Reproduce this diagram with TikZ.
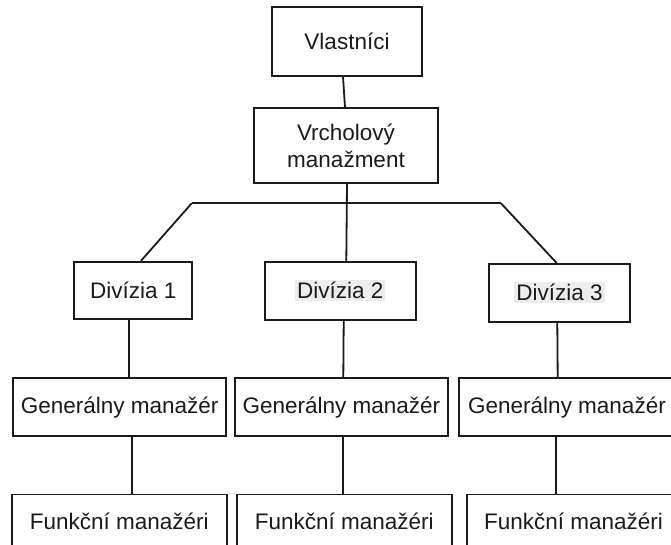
\documentclass[tikz,border=0pt]{standalone}
\usepackage{fontspec}
\setmainfont{Liberation Sans}
\definecolor{ink}{HTML}{1A1A1A}
\definecolor{hl}{HTML}{EDEDED}
\newcommand{\hilite}[1]{{\setlength{\fboxsep}{2pt}\colorbox{hl}{#1}}}
\begin{document}
\begin{tikzpicture}[x=1pt,y=-1pt,
  every node/.style={font=\fontsize{22.5}{27}\selectfont, text=ink},
  orgbox/.style={draw=ink, line width=1.8pt, fill=white, inner sep=0pt,
                 minimum height=#1, align=center},
  orgbox/.default=57.7pt,
  link/.style={draw=ink, line width=1.8pt}]
  % page frame: the bottom row runs past the lower and right edges
  \clip (0,0) rectangle (671,544);
  \fill[white] (0,0) rectangle (671,544);

  % top of the hierarchy
  \node[orgbox=69pt, minimum width=150pt] (v) at (347,41.5) {Vlastníci};
  \node[orgbox=75pt, minimum width=184pt] (vm) at (346,145.5) {Vrcholový\\manažment};

  % divisions
  \node[orgbox=57.6pt, minimum width=118.3pt] (d1) at (133.2,290.5) {Divízia 1};
  \node[orgbox=58.3pt, minimum width=150.7pt] (d2) at (340.3,290.8) {\hilite{Divízia 2}};
  \node[orgbox=57.7pt, minimum width=141pt] (d3) at (559.5,292.8) {\raisebox{-2.5pt}{\hilite{Divízia 3}}};

  % general managers
  \node[orgbox, minimum width=212.7pt] (g1) at (119.7,407.2) {Generálny manažér};
  \node[orgbox, minimum width=212.7pt] (g2) at (341.3,407.2) {Generálny manažér};
  \node[orgbox, minimum width=215.4pt] (g3) at (567,407.2) {Generálny manažér};

  % functional managers
  \node[orgbox=54.4pt, minimum width=215pt] (f1) at (119.2,521.7) {Funkční manažéri};
  \node[orgbox=54.4pt, minimum width=215pt] (f2) at (344.2,521.7) {Funkční manažéri};
  \node[orgbox=54.4pt, minimum width=213.6pt] (f3) at (573.5,521.7) {Funkční manažéri};

  % branching bar
  \coordinate (bl) at (191.7,203.3);
  \coordinate (br) at (501,203.3);

  % connectors
  \draw[link] ([xshift=-4pt]v.south) -- ([xshift=-1pt]vm.north);
  \draw[link] ([xshift=1pt]vm.south) -- ([xshift=6pt]d2.north);
  \draw[link] (bl) -- (br);
  \draw[link] (bl) -- ([xshift=7.8pt]d1.north);
  \draw[link] (br) -- ([xshift=-2.8pt]d3.north);

  \draw[link] ([xshift=-3.9pt]d1.south) -- ([xshift=9.6pt]g1.north);
  \draw[link] ([xshift=3.4pt]d2.south) -- ([xshift=2pt]g2.north);
  \draw[link] ([xshift=-2.2pt]d3.south) -- ([xshift=-9.3pt]g3.north);

  \draw[link] ([xshift=12pt]g1.south) -- ([xshift=12.5pt]f1.north);
  \draw[link] ([xshift=2pt]g2.south) -- ([xshift=-0.9pt]f2.north);
  \draw[link] ([xshift=-11pt]g3.south) -- ([xshift=-17.5pt]f3.north);
\end{tikzpicture}
\end{document}
